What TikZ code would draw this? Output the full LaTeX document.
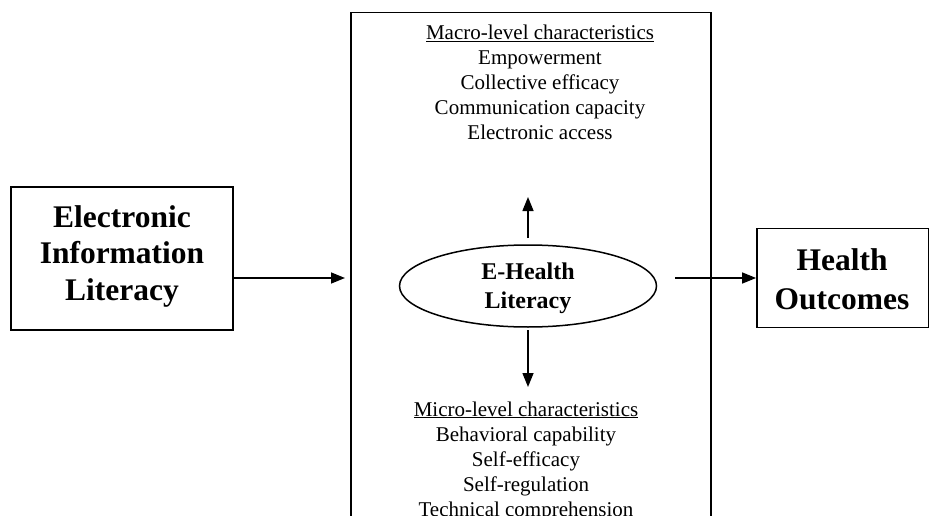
\documentclass[tikz,border=0pt]{standalone}
\usepackage{fontspec}
\setmainfont{Liberation Serif}
\usetikzlibrary{arrows.meta,shapes.geometric}
\begin{document}
\begin{tikzpicture}[x=1pt,y=-1pt,
  boxline/.style={draw,line width=1.8pt},
  bigtext/.style={font=\fontsize{31.5}{36.5}\selectfont\bfseries,align=center},
  listtext/.style={font=\fontsize{21}{25}\selectfont,align=center},
  arr/.style={line width=1.5pt,-{Triangle[length=14pt,width=11pt]}}]
\useasboundingbox (0,0) rectangle (929,516);
\fill[white] (0,0) rectangle (929,516);
% big central box (open at bottom)
\draw[line width=1.8pt] (351,518) -- (351,12.5) -- (711,12.5) -- (711,518);
\coordinate (bigL) at (351,278);
% left box
\node[boxline,minimum width=222pt,minimum height=143pt,inner sep=0pt] (eil) at (122,258.5) {};
\node[bigtext] (eiltxt) at (122,256) {Electronic\\Information\\Literacy};
% right box
\node[boxline,minimum width=172pt,minimum height=99pt,inner sep=0pt] (ho) at (843,278) {};
\node[font=\fontsize{31.5}{39}\selectfont\bfseries,align=center] (hotxt) at (842,279) {Health\\Outcomes};
% ellipse
\node[ellipse,draw,line width=1.5pt,minimum width=257pt,minimum height=82pt,inner sep=0pt] (ehl) at (528,286) {};
\node[font=\fontsize{24}{29}\selectfont\bfseries,align=center] (ehltxt) at (528,288) {E-Health\\Literacy};
% texts
\node[listtext] (macro) at (540,82) {\underline{Macro-level characteristics}\\Empowerment\\Collective efficacy\\Communication capacity\\Electronic access};
\node[listtext] (micro) at (526,461) {\underline{Micro-level characteristics}\\Behavioral capability\\Self-efficacy\\Self-regulation\\Technical comprehension};
% arrows
\coordinate (upS) at (528,238);
\coordinate (upT) at (528,197);
\coordinate (dnS) at (528,330);
\coordinate (dnT) at (528,387);
\coordinate (rS) at (675,278);
\draw[arr] (eil.east |- bigL) -- (345,278);
\draw[arr] (upS) -- (upT);
\draw[arr] (dnS) -- (dnT);
\draw[arr] (rS) -- (ho.west |- rS);
\end{tikzpicture}
\end{document}
